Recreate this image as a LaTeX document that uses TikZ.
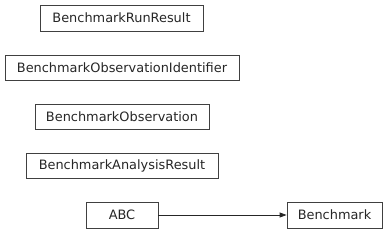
\documentclass[tikz,border=0pt]{standalone}
\usepackage{fontspec}
\setmainfont{DejaVu Sans}
\usetikzlibrary{arrows.meta}
\begin{document}
\begin{tikzpicture}[x=1pt,y=-1pt,
  cls/.style={draw=black!75,line width=0.8pt,rectangle,inner sep=0pt,font=\fontsize{12.9}{14}\selectfont,text=black!85},
  inh/.style={draw=black!85,line width=0.8pt,-{Triangle[length=7pt,width=5pt]}}]
\useasboundingbox (0,0) rectangle (388,233);
\node[cls,minimum width=163pt,minimum height=26pt] (rr) at (121.5,18) {BenchmarkRunResult};
\node[cls,minimum width=234pt,minimum height=25pt] (oi) at (122,67.5) {BenchmarkObservationIdentifier};
\node[cls,minimum width=174pt,minimum height=25pt] (ob) at (122,116.5) {BenchmarkObservation};
\node[cls,minimum width=192pt,minimum height=25pt] (ar) at (122,165.5) {BenchmarkAnalysisResult};
\node[cls,minimum width=72pt,minimum height=26pt] (abc) at (122,215) {ABC};
\node[cls,minimum width=95pt,minimum height=26pt] (bm) at (334.5,215) {Benchmark};
\draw[inh] (abc) -- (bm);
\end{tikzpicture}
\end{document}
